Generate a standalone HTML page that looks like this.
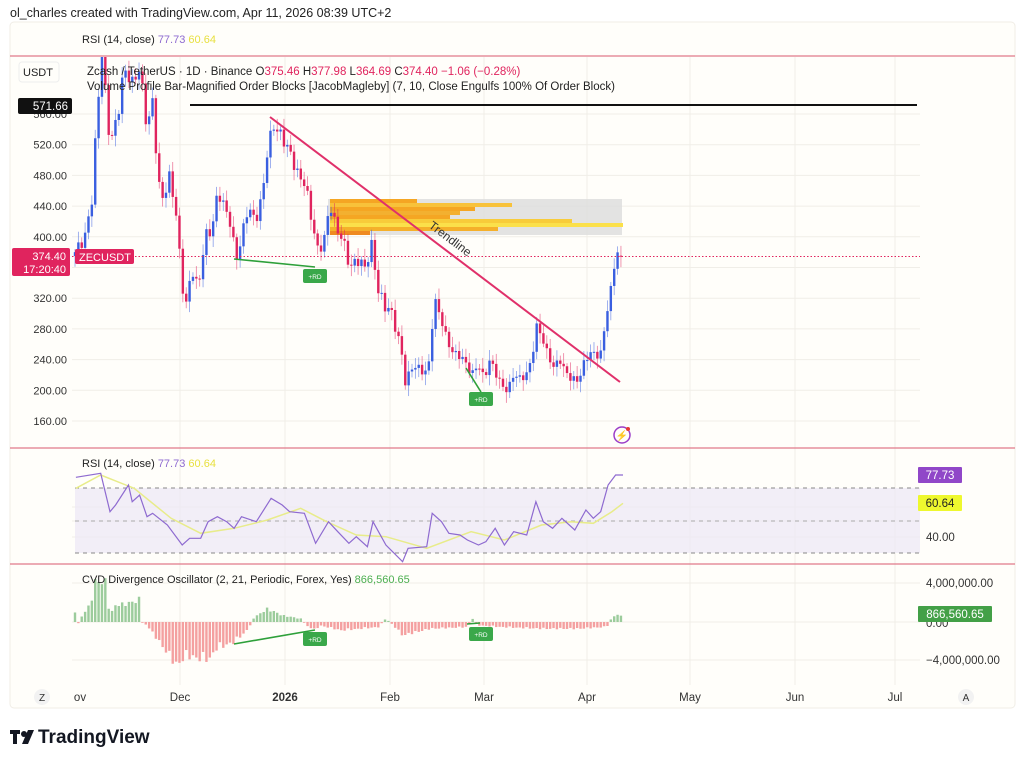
<!DOCTYPE html>
<html><head><meta charset="utf-8"><style>
body{margin:0;background:#fff;width:1024px;height:764px;overflow:hidden;font-family:"Liberation Sans",sans-serif}
svg text{font-family:"Liberation Sans",sans-serif}
</style></head><body>
<svg id="s" width="1024" height="764" xmlns="http://www.w3.org/2000/svg">
<text x="10" y="17" font-size="12.5" fill="#222">ol_charles created with TradingView.com, Apr 11, 2026 08:39 UTC+2</text>
<rect x="10" y="22" width="1005" height="686" rx="4" fill="#fffefa" stroke="#f0ede6"/>
<g id="grid" stroke="#f0eee8" stroke-width="1"></g>
<line x1="10" y1="56" x2="1015" y2="56" stroke="#e07a8a" stroke-width="1.2"/>
<line x1="10" y1="448" x2="1015" y2="448" stroke="#e07a8a" stroke-width="1.2"/>
<line x1="10" y1="564" x2="1015" y2="564" stroke="#e07a8a" stroke-width="1.2"/>
<text x="82" y="43" font-size="11" fill="#222">RSI (14, close) <tspan fill="#8e6ad0">77.73</tspan> <tspan fill="#e8e040">60.64</tspan></text>
<defs><clipPath id="cp"><rect x="72" y="57" width="860" height="390"/></clipPath></defs>
<!-- volume profile -->
<g>
<rect x="328" y="199" width="294" height="36" fill="#dcdcdc" opacity="0.8"/>
<rect x="330" y="199" width="87" height="4" fill="#f5a623"/>
<rect x="330" y="203" width="182" height="4" fill="#f8c23a"/>
<rect x="330" y="207" width="145" height="4" fill="#f5a623"/>
<rect x="330" y="211" width="130" height="4" fill="#f3b030"/>
<rect x="330" y="215" width="120" height="4" fill="#f5a623"/>
<rect x="330" y="219" width="242" height="4" fill="#f8cc3a"/>
<rect x="330" y="223" width="293" height="4" fill="#fbe04a"/>
<rect x="330" y="227" width="168" height="4" fill="#f5b02a"/>
<rect x="330" y="231" width="40" height="4" fill="#ef8a20"/>
</g>
<line x1="190" y1="105" x2="917" y2="105" stroke="#111" stroke-width="2"/>
<g id="candles" clip-path="url(#cp)"></g>
<line x1="72" y1="256.5" x2="920" y2="256.5" stroke="#e0245e" stroke-width="1" stroke-dasharray="1.5,2"/>
<line x1="270" y1="117" x2="620" y2="382" stroke="#e0306a" stroke-width="2"/>
<text x="0" y="0" font-size="12" fill="#333" transform="translate(428,227) rotate(37)">Trendline</text>
<!-- RD lines -->
<line x1="234" y1="259" x2="315" y2="267" stroke="#2ea03a" stroke-width="1.6"/>
<rect x="303" y="269" width="24" height="14" rx="2" fill="#3aa84a"/><text x="315" y="279" font-size="6.5" fill="#fff" text-anchor="middle">+RD</text>
<line x1="466" y1="368" x2="481" y2="392" stroke="#2ea03a" stroke-width="1.6"/>
<rect x="469" y="392" width="24" height="14" rx="2" fill="#3aa84a"/><text x="481" y="402" font-size="6.5" fill="#fff" text-anchor="middle">+RD</text>
<!-- header text -->
<text x="87" y="75" font-size="11.5" fill="#222">Zcash / TetherUS · 1D · Binance  O<tspan fill="#e0245e">375.46</tspan>  H<tspan fill="#e0245e">377.98</tspan>  L<tspan fill="#e0245e">364.69</tspan>  C<tspan fill="#e0245e">374.40</tspan>  <tspan fill="#e0245e">−1.06 (−0.28%)</tspan></text>
<text x="87" y="90" font-size="11.5" fill="#222">Volume Profile Bar-Magnified Order Blocks [JacobMagleby] (7, 10, Close Engulfs 100% Of Order Block)</text>
<rect x="19" y="62" width="40" height="20" rx="3" fill="#fffefa" stroke="#eee"/>
<text x="23" y="76" font-size="11" fill="#222">USDT</text>
<g id="plab" font-size="11" fill="#333" text-anchor="end"></g>
<rect x="18" y="98" width="54" height="16" rx="2" fill="#111"/><text x="68" y="110" font-size="11.5" fill="#fff" text-anchor="end">571.66</text>
<rect x="12" y="248" width="58" height="28" rx="2" fill="#e0245e"/>
<text x="66" y="260" font-size="11" fill="#fff" text-anchor="end">374.40</text>
<text x="66" y="273" font-size="11" fill="#fff" text-anchor="end">17:20:40</text>
<rect x="75" y="249" width="59" height="15" rx="2" fill="#e0245e"/><text x="79" y="261" font-size="11" fill="#fff">ZECUSDT</text>
<circle cx="622" cy="435" r="8" fill="none" stroke="#9b3dc8" stroke-width="1.5"/><text x="622" y="439" font-size="10" fill="#9b3dc8" text-anchor="middle">⚡</text><circle cx="628" cy="429" r="2" fill="#e53935"/>
<!-- RSI pane -->
<rect x="75" y="488" width="845" height="65" fill="#ede8f5" opacity="0.75"/>
<line x1="75" y1="488" x2="920" y2="488" stroke="#888" stroke-dasharray="4,4"/>
<line x1="75" y1="521" x2="920" y2="521" stroke="#aaa" stroke-dasharray="4,4"/>
<line x1="75" y1="553" x2="920" y2="553" stroke="#888" stroke-dasharray="4,4"/>
<polyline id="rma" fill="none" stroke="#e8ec8a" stroke-width="1.5"/>
<polyline id="rsi" fill="none" stroke="#8e6ad0" stroke-width="1.2"/>
<text x="82" y="467" font-size="11" fill="#222">RSI (14, close) <tspan fill="#8e6ad0">77.73</tspan> <tspan fill="#e8e040">60.64</tspan></text>
<rect x="918" y="467" width="44" height="16" rx="1" fill="#9047c8"/><text x="940" y="479" font-size="11.5" fill="#fff" text-anchor="middle">77.73</text>
<rect x="918" y="495" width="44" height="16" rx="1" fill="#eef82e"/><text x="940" y="507" font-size="11.5" fill="#222" text-anchor="middle">60.64</text>
<text x="926" y="541" font-size="11.5" fill="#333">40.00</text>
<!-- CVD pane -->
<g id="cvd"></g>
<line x1="234" y1="644" x2="315" y2="630" stroke="#2ea03a" stroke-width="1.6"/>
<rect x="303" y="632" width="24" height="14" rx="2" fill="#3aa84a"/><text x="315" y="642" font-size="6.5" fill="#fff" text-anchor="middle">+RD</text>
<line x1="467" y1="624" x2="480" y2="623" stroke="#2ea03a" stroke-width="1.6"/>
<rect x="469" y="627" width="24" height="14" rx="2" fill="#3aa84a"/><text x="481" y="637" font-size="6.5" fill="#fff" text-anchor="middle">+RD</text>
<text x="82" y="583" font-size="11" fill="#222">CVD Divergence Oscillator (2, 21, Periodic, Forex, Yes) <tspan fill="#4caf50">866,560.65</tspan></text>
<text x="926" y="587" font-size="11.5" fill="#333">4,000,000.00</text>
<text x="926" y="627" font-size="11.5" fill="#333">0.00</text>
<rect x="918" y="606" width="74" height="16" rx="1" fill="#43a047"/><text x="955" y="618" font-size="11.5" fill="#fff" text-anchor="middle">866,560.65</text>
<text x="926" y="664" font-size="11.5" fill="#333">−4,000,000.00</text>
<!-- time axis -->
<g font-size="11.5" fill="#333" text-anchor="middle">
<text x="80" y="701">ov</text><text x="180" y="701">Dec</text><text x="285" y="701" font-weight="bold">2026</text><text x="390" y="701">Feb</text><text x="484" y="701">Mar</text><text x="587" y="701">Apr</text><text x="690" y="701">May</text><text x="795" y="701">Jun</text><text x="895" y="701">Jul</text>
<circle cx="42" cy="697" r="8" fill="#f2f2f2"/><text x="42" y="701" font-size="10">Z</text>
<circle cx="966" cy="697" r="8" fill="#f2f2f2"/><text x="966" y="701" font-size="10">A</text>
</g>
<g transform="translate(10,728)"><rect x="0" y="2" width="10" height="4" fill="#131722"/><rect x="3" y="2" width="4" height="14" fill="#131722"/><circle cx="14" cy="6" r="3" fill="#131722"/><polygon points="18,2 24,2 18,16 12,16" fill="#131722"/></g>
<text x="38" y="743" font-size="19" font-weight="bold" fill="#131722">TradingView</text>
</svg>
<script>
var NS="http://www.w3.org/2000/svg";
function el(p,t,a){var e=document.createElementNS(NS,t);for(var k in a)e.setAttribute(k,a[k]);p.appendChild(e);return e;}
var g=document.getElementById('grid');
[180,285,390,484,587,690,795,895].forEach(function(x){el(g,'line',{x1:x,y1:57,x2:x,y2:685});});
var py=function(p){return 114+(560-p)*0.7675;};
var pl=document.getElementById('plab');
for(var p=560;p>=160;p-=40){var y=py(p);el(g,'line',{x1:72,y1:y,x2:920,y2:y});var t=el(pl,'text',{x:67,y:y+4});t.textContent=p.toFixed(2);}
[507,521,537,583,622,660].forEach(function(y){el(g,'line',{x1:72,y1:y,x2:920,y2:y});});
var K=[[75,380],[85,400],[92,450],[97,560],[102,640],[110,520],[118,560],[124,620],[132,600],[140,620],[147,540],[153,580],[158,470],[163,450],[170,480],[176,430],[182,340],[186,310],[192,360],[198,330],[205,400],[212,410],[218,460],[224,440],[230,420],[236,370],[242,400],[248,440],[255,420],[262,450],[268,520],[274,545],[282,530],[290,510],[298,480],[305,470],[312,420],[318,380],[325,400],[330,445],[336,410],[342,400],[350,360],[358,370],[365,360],[372,390],[378,330],[385,310],[392,300],[398,270],[403,240],[406,200],[410,230],[418,230],[425,222],[430,240],[434,320],[440,300],[446,270],[452,250],[460,245],[466,235],[472,220],[478,235],[484,215],[490,240],[496,222],[502,205],[508,200],[514,222],[520,215],[526,220],[532,240],[536,285],[542,270],[548,245],[554,230],[560,240],[566,222],[572,215],[578,212],[584,235],[590,250],[596,245],[602,250],[606,300],[610,320],[614,360],[617,385],[620,374]];
function interp(A,x){for(var i=0;i<A.length-1;i++){if(x<=A[i+1][0]){var f=(x-A[i][0])/(A[i+1][0]-A[i][0]);return A[i][1]+f*(A[i+1][1]-A[i][1]);}}return A[A.length-1][1];}
var cg=document.getElementById('candles');var prev=375;
for(var i=0;i<=162;i++){var x=75+i*3.37;if(x>621)x=620;var c=interp(K,x)+Math.sin(i*2.3)*8*(c>300?1:0.6);
 var o=prev;if(i==162){o=375.46;c=374.4;}
 var hi=Math.max(o,c)+4+Math.abs(Math.sin(i*1.7))*10,lo=Math.min(o,c)-4-Math.abs(Math.cos(i*1.3))*10;
 var col=c>=o?'#3a5fe0':'#e0245e';
 el(cg,'line',{x1:x,y1:py(hi),x2:x,y2:py(lo),stroke:col,'stroke-width':0.8,opacity:0.6});
 var yt=py(Math.max(o,c)),yb=py(Math.min(o,c));el(cg,'rect',{x:x-1.2,y:yt,width:2.4,height:Math.max(1,yb-yt),fill:col});
 prev=c;}
var R=[[43,97],[110,85],[135,200],[150,180],[185,120],[195,170],[215,150],[235,215],[250,205],[290,240],[330,300],[350,280],[380,280],[400,230],[425,215],[450,230],[470,250],[490,215],[530,230],[570,160],[600,180],[620,200],[660,205],[690,295],[725,230],[750,260],[780,295],[800,275],[830,305],[845,230],[880,300],[925,350],[940,310],[990,305],[1005,205],[1030,230],[1050,265],[1080,270],[1100,285],[1130,300],[1150,290],[1175,250],[1200,300],[1225,260],[1260,270],[1285,170],[1305,230],[1330,250],[1355,220],[1390,255],[1420,195],[1440,220],[1460,200],[1480,120],[1500,90],[1520,90]];
var M=[[43,130],[110,90],[200,130],[300,220],[380,265],[470,250],[560,225],[650,190],[720,230],[800,270],[880,275],[990,310],[1110,260],[1200,285],[1300,240],[1380,230],[1440,235],[1490,200],[1520,175]];
function pts(A){return A.map(function(a){return (60+a[0]/2.7).toFixed(1)+','+(445+a[1]/3).toFixed(1);}).join(' ');}
document.getElementById('rsi').setAttribute('points',pts(R));
document.getElementById('rma').setAttribute('points',pts(M));
var C=[[43,25],[50,-5],[60,20],[80,50],[95,120],[125,120],[130,50],[140,30],[150,50],[200,60],[215,70],[222,0],[235,-10],[255,-40],[315,-130],[340,-100],[380,-110],[405,-110],[420,-80],[470,-60],[510,-20],[520,10],[560,40],[600,20],[650,10],[665,-10],[690,-25],[700,-10],[760,-25],[860,-15],[880,10],[900,-10],[925,-40],[1000,-20],[1100,-15],[1115,10],[1130,-10],[1190,-15],[1300,-20],[1400,-20],[1470,-15],[1480,-10],[1490,15],[1520,25]];
var cv=document.getElementById('cvd');
for(var i=0;i<=162;i++){var x=75+i*3.37;if(x>621)x=620;var zx=(x-60)*2.7;var v=interp(C,zx)*(0.8+0.3*Math.abs(Math.sin(i*1.9)))/3;
 var y0=622;el(cv,'rect',{x:x-1.2,y:v>0?y0-v:y0,width:2.4,height:Math.max(0.8,Math.abs(v)),fill:v>0?'#9ccc9c':'#f4a0a0'});}
</script>
</body></html>
